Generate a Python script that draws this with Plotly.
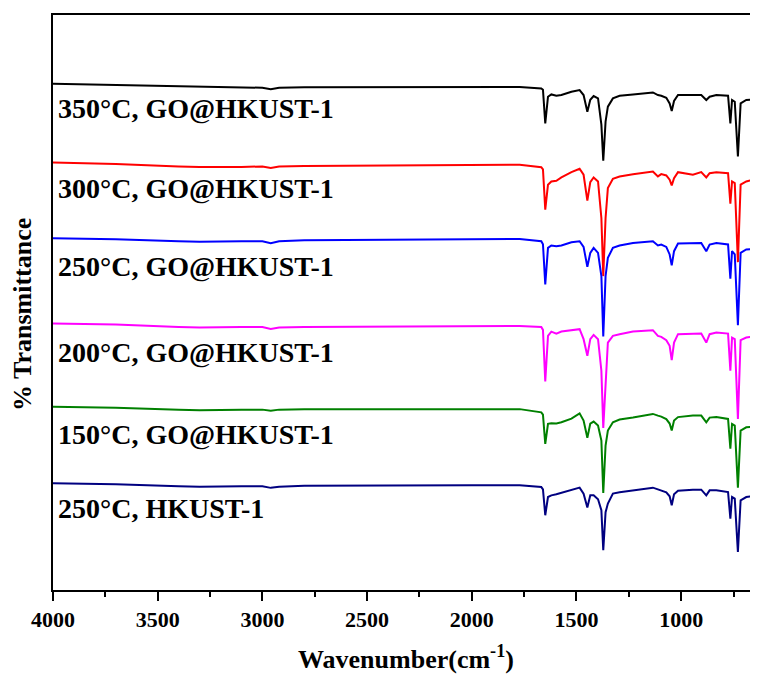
import plotly.graph_objects as go

# Wavenumber grid (cm-1)
wavenumber = [4000, 3700, 3400, 3300, 3100, 3000, 2960, 2920, 2800, 2400, 2000, 1771,
              1668, 1660, 1649, 1636, 1620, 1596, 1572, 1524, 1485, 1466,
              1448, 1434, 1418, 1397, 1381, 1372, 1361, 1350, 1326, 1294,
              1230, 1135, 1111, 1095, 1071, 1055, 1045, 1034, 1015, 944,
              904, 880, 864, 832, 776, 765, 757, 744, 729, 716,
              689, 636]

# Offset %Transmittance (arbitrary units) for each sample
t_350_go = [518, 517, 515.5, 515, 514.5, 514, 512.5, 514, 514.5, 514.5, 514.5, 514.7,
            513.3, 512, 478.3, 505, 507.3, 506, 506.7, 510, 511.7, 506.7,
            490, 502, 505.7, 503.3, 477, 440.7, 480, 495, 503.3, 506,
            507.3, 509.3, 506.7, 506, 504, 498.3, 490.7, 500.7, 506.7, 506.7,
            506.7, 501.7, 505, 506.7, 506, 478.3, 501.7, 500, 445, 498.3,
            501.7, 502.7]
t_300_go = [439, 437.5, 435, 434.5, 434.5, 435, 433.5, 435, 435.5, 436, 436.5, 436.7,
            434.3, 432, 391.7, 416.7, 420, 420.7, 424, 429.3, 432.7, 426.7,
            400.7, 419.3, 424, 420, 383.3, 325, 383.3, 413.3, 422.7, 425,
            427.3, 430, 425, 427.3, 426, 421.7, 416, 423.3, 429.3, 426.7,
            429.3, 424, 428.3, 429.3, 428.3, 397.7, 420, 418.3, 339, 416.7,
            420, 422.7]
t_250_go = [363, 362, 360, 359.5, 360, 360, 358, 360, 361, 361.5, 362, 362.3,
            360, 357, 316.7, 353.3, 355.7, 355, 355.7, 359, 360, 354.3,
            334.3, 348.3, 353.3, 348.3, 325, 264.3, 325, 343.3, 353.3, 355.7,
            358.3, 360, 355.7, 356.7, 354.3, 346.7, 335.7, 350, 357.7, 358.3,
            358.3, 350, 356.7, 358.3, 356.7, 322.3, 350, 346.7, 275.7, 348.3,
            351.7, 352.7]
t_200_go = [277.5, 276.5, 274, 273.5, 274, 274, 272, 273.5, 274, 274.5, 275, 275,
            274, 271, 219.3, 265, 269.3, 267.3, 269.3, 270.7, 271.7, 261.7,
            245, 261.7, 266, 261.7, 230, 172.7, 223.3, 258.3, 265, 266.7,
            269.3, 270.7, 265, 264, 260.7, 255, 240.7, 258.3, 266.7, 266.7,
            267.3, 258.3, 266.7, 268.3, 267.3, 230, 263.3, 261.7, 181.7, 260.7,
            263.3, 265]
t_150_go = [194, 193, 191, 190.5, 191, 191, 190, 191, 191.5, 191.5, 191.5, 191.5,
            188.3, 186, 156.7, 176.7, 177.3, 177, 178.3, 182, 187.3, 180,
            162.7, 177, 179, 175, 160, 107.3, 155, 170, 178.3, 181,
            183, 186.7, 185, 184, 181.5, 177, 170, 180, 183.5, 185,
            185, 178.3, 183, 183.5, 181.7, 151.7, 176.7, 175, 112.7, 170,
            173.3, 174]
t_250_hk = [117, 116, 114, 113.5, 114, 114, 112.5, 113.5, 114.5, 115, 115, 115,
            113.3, 111, 85, 103.3, 105, 106, 107.5, 110, 112.7, 106.7,
            92.7, 105, 105, 101, 90, 50, 88, 96.7, 106.7, 108,
            110, 112.7, 111, 110, 108, 104, 95, 106, 109.5, 110.7,
            110.7, 105, 110, 110, 108.3, 81.7, 103.3, 101.7, 48.3, 100,
            103.3, 105]

series_names = ["350°C, GO@HKUST-1", "300°C, GO@HKUST-1", "250°C, GO@HKUST-1",
                "200°C, GO@HKUST-1", "150°C, GO@HKUST-1", "250°C, HKUST-1"]
series_values = [t_350_go, t_300_go, t_250_go, t_200_go, t_150_go, t_250_hk]
series_colors = ["#000000", "#FF0000", "#0000FF", "#FF00FF", "#008000", "#000080"]
label_y = [0.838, 0.698, 0.563, 0.413, 0.271, 0.141]

FONT = "Liberation Serif, Times New Roman, serif"

fig = go.Figure()
for name, vals, col in zip(series_names, series_values, series_colors):
    fig.add_trace(go.Scatter(x=wavenumber, y=vals, mode="lines", name=name,
                             line=dict(color=col, width=2), showlegend=False))

for name, ly in zip(series_names, label_y):
    fig.add_annotation(text=name, xref="paper", yref="paper", x=0.004, y=ly,
                       xanchor="left", yanchor="middle", showarrow=False,
                       font=dict(family=FONT, size=28, color="black", weight="bold"))

fig.add_annotation(text="Wavenumber(cm<sup>-1</sup>)", xref="paper", yref="paper",
                   x=0.5, y=-0.117, xanchor="center", yanchor="middle", showarrow=False,
                   font=dict(family=FONT, size=26, color="black", weight="bold"))
fig.add_annotation(text="% Transmittance", xref="paper", yref="paper",
                   x=-0.044, y=0.48, xanchor="center", yanchor="middle", showarrow=False,
                   textangle=-90,
                   font=dict(family=FONT, size=26, color="black", weight="bold"))

fig.update_layout(
    width=758, height=675,
    margin=dict(l=45, r=8, t=5, b=93),
    paper_bgcolor="white", plot_bgcolor="white",
    xaxis=dict(range=[4000, 633], tickmode="array",
               tickvals=[4000, 3500, 3000, 2500, 2000, 1500, 1000],
               ticktext=["4000", "3500", "3000", "2500", "2000", "1500", "1000"],
               ticks="outside", ticklen=9, tickwidth=2, tickcolor="black",
               minor=dict(tickvals=[3750, 3250, 2750, 2250, 1750, 1250, 750],
                          ticks="outside", ticklen=5, tickwidth=2, tickcolor="black"),
               showline=True, linewidth=2, linecolor="black", mirror=True,
               showgrid=False, zeroline=False,
               tickfont=dict(family=FONT, size=22, color="black", weight="bold")),
    yaxis=dict(range=[10, 587], showticklabels=False, ticks="",
               showline=True, linewidth=2, linecolor="black",
               showgrid=False, zeroline=False),
)

fig.write_html("out.html")
